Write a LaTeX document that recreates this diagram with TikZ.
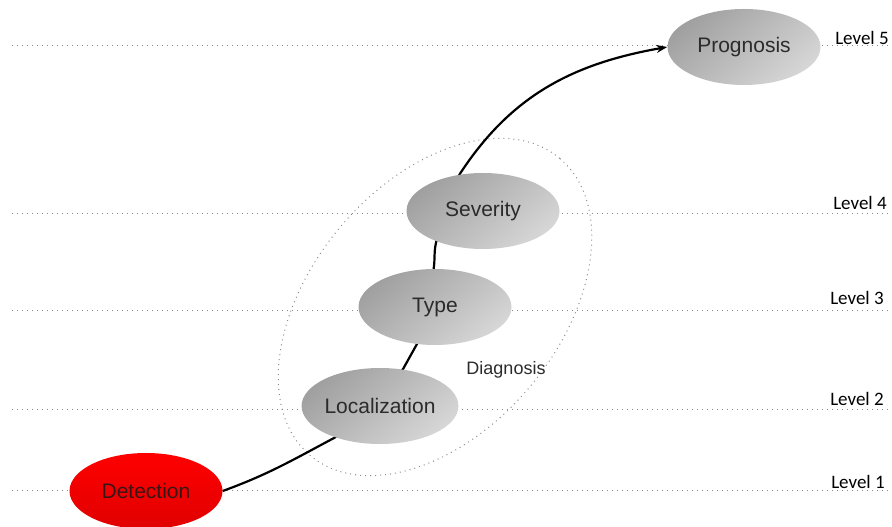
\documentclass[tikz,border=0pt]{standalone}
\usepackage{fontspec}
\setmainfont{Liberation Sans}
\newfontfamily\levelfont{Carlito}
\usetikzlibrary{arrows.meta,calc,shapes.geometric,backgrounds}

\definecolor{ellDark}{HTML}{A0A0A0}
\definecolor{ellLight}{HTML}{D6D6D6}
\definecolor{detTop}{HTML}{FF0000}
\definecolor{detBot}{HTML}{E00000}
\definecolor{txtGray}{HTML}{2B2B2B}
\definecolor{detText}{HTML}{3A1515}
\definecolor{guideGray}{HTML}{8C8C8C}

\begin{document}
\begin{tikzpicture}[x=1pt,y=1pt]

% --------------------
% Parameters (tweak these)
% --------------------
\def\ellW{153pt}   % stage ellipse width
\def\ellH{76pt}    % stage ellipse height
\def\lineL{12}     % left end of level guides
\def\lineR{892}    % right end of level guides
\def\diagA{194}    % diagnosis ring, long radius
\def\diagB{124}    % diagnosis ring, short radius

\tikzset{
  stage/.style={ellipse, minimum width=\ellW, minimum height=\ellH, inner sep=0pt,
    top color=ellDark, bottom color=ellLight, shading angle=40,
    text=txtGray, font=\fontsize{21}{25}\selectfont},
  alarm/.style={stage, top color=detTop, bottom color=detBot, text=detText},
  guide/.style={draw=guideGray, line width=1pt, dash pattern=on 1pt off 4pt},
  flow/.style={-{Stealth[length=11pt,width=8pt]}, line width=2.2pt, line join=round},
  lvl/.style={font=\levelfont\fontsize{19}{23}\selectfont, inner sep=0pt}
}

\useasboundingbox (0,0) rectangle (892,527);

% --------------------
% Stage nodes
% --------------------
\node[stage] (prog) at (744,480) {Prognosis};
\node[stage] (sev)  at (483,316) {Severity};
\node[stage] (typ)  at (435,220) {Type};
\node[stage] (loc)  at (380,121) {Localization};
\node[alarm] (det)  at (146,36)  {Detection};

% --------------------
% Level labels
% --------------------
\node[lvl] (lv5) at (862,489) {Level 5};
\node[lvl] (lv4) at (860,324) {Level 4};
\node[lvl] (lv3) at (857,229) {Level 3};
\node[lvl] (lv2) at (857,128) {Level 2};
\node[lvl] (lv1) at (858,45)  {Level 1};

\node[font=\fontsize{18}{22}\selectfont, text=txtGray] (diag) at (506,157) {Diagnosis};

% --------------------
% Guides, ring and main path (behind the stages)
% --------------------
\begin{pgfonlayer}{background}
\foreach \y in {481,313,216,117,36}
  \draw[guide] (\lineL,\y) -- (\lineR,\y);

\draw[guide] (typ.center) ellipse[x radius=\diagA, y radius=\diagB, rotate=50];

\draw[flow] (det.east) to[out=20,in=208] (loc.215) -- (loc.58)
  -- (typ.244) -- (typ.92)
  to[out=82,in=256] (sev.213) -- (sev.123)
  to[out=57,in=190] (prog.west);
\end{pgfonlayer}

\end{tikzpicture}
\end{document}
